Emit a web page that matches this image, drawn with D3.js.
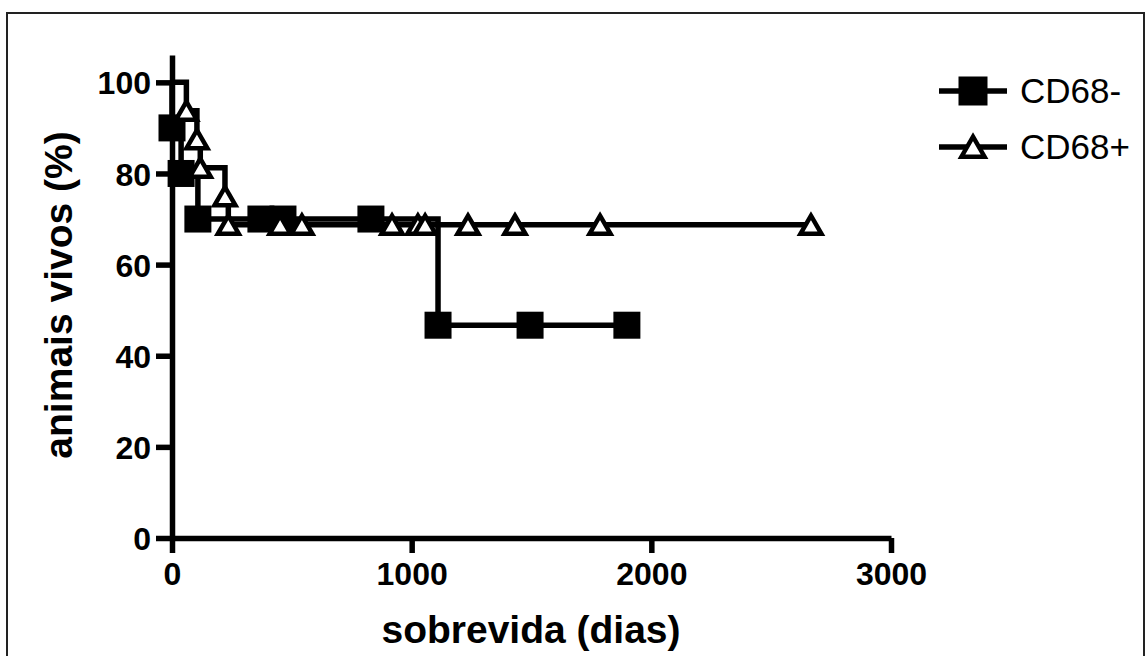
<!DOCTYPE html>
<html>
<head>
<meta charset="utf-8">
<script src="https://cdn.jsdelivr.net/npm/d3@7"></script>
<style>
  body { margin: 0; background: #fff; }
  svg { display: block; font-family: "Liberation Sans", Arial, sans-serif; }
</style>
</head>
<body>
<div id="content"></div>
<script>
let width = 1146;
let height = 656;

// axis ticks
const xTicks = [0, 1000, 2000, 3000];
const yTicks = [0, 20, 40, 60, 80, 100];

// Kaplan-Meier points: day of event / censoring and survival (%) after it
const negDays = [0, 38, 108, 371, 463, 830, 1110, 1494, 1898];
const negSurv = [90, 80, 70, 70, 70, 70, 46.7, 46.7, 46.7];
const posDays = [60, 104, 118, 221, 235, 451, 542, 918, 1026, 1056, 1235, 1431, 1786, 2666];
const posSurv = [93.75, 87.5, 81.25, 75, 68.75, 68.75, 68.75, 68.75, 68.75, 68.75, 68.75, 68.75, 68.75, 68.75];

const legendLabels = ["CD68-", "CD68+"];

let svg = d3.select("#content")
    .append("svg")
    .attr("width", width)
    .attr("height", height);

// outer frame
svg.append("rect")
    .attr("x", 7).attr("y", 13)
    .attr("width", 1137).attr("height", 670)
    .attr("fill", "none")
    .attr("stroke", "#222")
    .attr("stroke-width", 2);

let xScale = d3.scaleLinear().domain([0, 3000]).range([172, 891]);
let yScale = d3.scaleLinear().domain([0, 106]).range([538, 55]);

let lw = 5.5;

// axes
let xAxis = svg.append("g")
    .attr("transform", "translate(0," + yScale(0) + ")")
    .call(d3.axisBottom(xScale).tickValues(xTicks).tickFormat(d3.format("d"))
        .tickSize(15).tickSizeOuter(0).tickPadding(9));

let yAxis = svg.append("g")
    .attr("transform", "translate(" + xScale(0) + ",0)")
    .call(d3.axisLeft(yScale).tickValues(yTicks).tickSize(16).tickSizeOuter(0).tickPadding(5));

[xAxis, yAxis].forEach(function(g) {
    g.select(".domain").attr("stroke", "#000").attr("stroke-width", lw);
    g.selectAll(".tick line").attr("stroke", "#000").attr("stroke-width", lw);
    g.selectAll(".tick text")
        .attr("fill", "#000")
        .style("font-size", "32px")
        .style("font-weight", "bold")
        .style("font-family", "'Liberation Sans', Arial, sans-serif");
});
xAxis.selectAll(".tick text").attr("dy", "0.72em");
yAxis.selectAll(".tick text").attr("dy", "0.36em");

// axis titles
svg.append("text")
    .attr("x", 531).attr("y", 643)
    .attr("text-anchor", "middle")
    .style("font-size", "39px").style("font-weight", "bold")
    .text("sobrevida (dias)");

svg.append("text")
    .attr("transform", "translate(72,295) rotate(-90)")
    .attr("text-anchor", "middle")
    .style("font-size", "39px").style("font-weight", "bold")
    .text("animais vivos (%)");

// step curves
let step = d3.line()
    .x(function(d) { return xScale(d[0]); })
    .y(function(d) { return yScale(d[1]); })
    .curve(d3.curveStepAfter);

let negPts = negDays.map(function(d, i) { return [d, negSurv[i]]; });
let posPts = posDays.map(function(d, i) { return [d, posSurv[i]]; });

let sq = 27;
let tri = d3.symbol().type(d3.symbolTriangle).size(190);

function drawSeries(pts, kind) {
    svg.append("path")
        .datum([[0, 100]].concat(pts))
        .attr("d", step)
        .attr("fill", "none")
        .attr("stroke", "#000")
        .attr("stroke-width", lw)
        .attr("stroke-linejoin", "miter");

    if (kind === "square") {
        svg.selectAll(".sq")
            .data(pts)
            .enter().append("rect")
            .attr("class", "sq")
            .attr("x", function(d) { return xScale(d[0]) - sq / 2; })
            .attr("y", function(d) { return yScale(d[1]) - sq / 2; })
            .attr("width", sq).attr("height", sq)
            .attr("fill", "#000");
    } else {
        svg.selectAll(".tri")
            .data(pts)
            .enter().append("path")
            .attr("class", "tri")
            .attr("d", tri)
            .attr("transform", function(d) { return "translate(" + xScale(d[0]) + "," + (yScale(d[1]) + 3) + ")"; })
            .attr("fill", "#fff")
            .attr("stroke", "#000")
            .attr("stroke-width", 4.5)
            .attr("stroke-linejoin", "miter");
    }
}

drawSeries(negPts, "square");
drawSeries(posPts, "triangle");

// legend
let legend = svg.selectAll(".legend")
    .data(legendLabels)
    .enter().append("g")
    .attr("class", "legend")
    .attr("transform", function(d, i) { return "translate(0," + (91 + i * 56) + ")"; });

legend.append("line")
    .attr("x1", 939).attr("x2", 1007)
    .attr("stroke", "#000").attr("stroke-width", lw);

legend.filter(function(d, i) { return i === 0; })
    .append("rect")
    .attr("x", 973 - 14.5).attr("y", -14.5)
    .attr("width", 29).attr("height", 29)
    .attr("fill", "#000");

legend.filter(function(d, i) { return i === 1; })
    .append("path")
    .attr("d", d3.symbol().type(d3.symbolTriangle).size(230))
    .attr("transform", "translate(973,3)")
    .attr("fill", "#fff")
    .attr("stroke", "#000")
    .attr("stroke-width", 4.5);

legend.append("text")
    .attr("x", 1020).attr("y", 12)
    .style("font-size", "35px")
    .attr("fill", "#000")
    .text(function(d) { return d; });
</script>
</body>
</html>
